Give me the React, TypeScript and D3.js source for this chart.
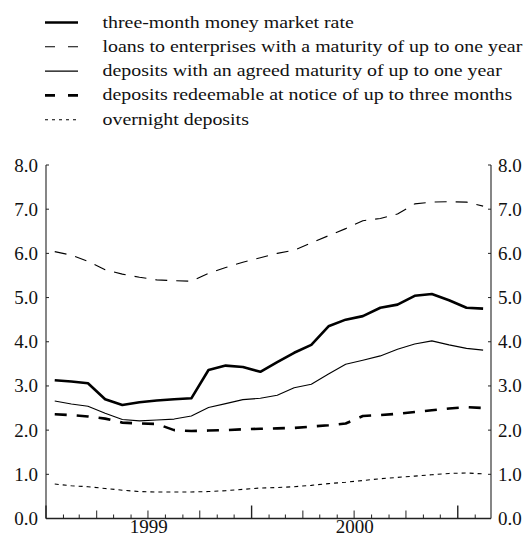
import * as d3 from "d3"

// monthly observations, Jan 1999 - Feb 2001
const months = [
  "1999-01", "1999-02", "1999-03", "1999-04", "1999-05", "1999-06",
  "1999-07", "1999-08", "1999-09", "1999-10", "1999-11", "1999-12",
  "2000-01", "2000-02", "2000-03", "2000-04", "2000-05", "2000-06",
  "2000-07", "2000-08", "2000-09", "2000-10", "2000-11", "2000-12",
  "2001-01", "2001-02",
]

const moneyMarket = [3.13, 3.1, 3.06, 2.7, 2.57, 2.63, 2.67, 2.7, 2.72, 3.36, 3.46, 3.43, 3.32, 3.54, 3.75, 3.93, 4.35, 4.5, 4.58, 4.77, 4.84, 5.04, 5.08, 4.94, 4.77, 4.75]
const loans = [6.04, 5.96, 5.82, 5.63, 5.53, 5.46, 5.4, 5.38, 5.37, 5.55, 5.68, 5.8, 5.9, 6.0, 6.07, 6.24, 6.4, 6.56, 6.74, 6.79, 6.89, 7.12, 7.16, 7.17, 7.16, 7.07]
const agreed = [2.66, 2.59, 2.54, 2.38, 2.24, 2.21, 2.23, 2.25, 2.32, 2.51, 2.6, 2.69, 2.72, 2.79, 2.96, 3.04, 3.27, 3.49, 3.58, 3.68, 3.83, 3.95, 4.02, 3.93, 3.85, 3.81]
const redeemable = [2.36, 2.34, 2.31, 2.26, 2.17, 2.15, 2.14, 2.0, 1.98, 1.99, 2.0, 2.02, 2.03, 2.04, 2.05, 2.08, 2.11, 2.15, 2.32, 2.34, 2.37, 2.41, 2.45, 2.49, 2.52, 2.5]
const overnight = [0.78, 0.74, 0.72, 0.68, 0.64, 0.61, 0.6, 0.6, 0.6, 0.61, 0.63, 0.66, 0.69, 0.7, 0.72, 0.75, 0.79, 0.82, 0.86, 0.9, 0.93, 0.96, 0.99, 1.02, 1.03, 1.01]

const yTicks = [0, 1, 2, 3, 4, 5, 6, 7, 8]
const yearLabels = ["1999", "2000"]

const series = [
  { name: "three-month money market rate", values: moneyMarket, width: 2.6, dash: "", legendDash: "" },
  { name: "loans to enterprises with a maturity of up to one year", values: loans, width: 1.1, dash: "12,9", legendDash: "10,13" },
  { name: "deposits with an agreed maturity of up to one year", values: agreed, width: 1.1, dash: "", legendDash: "" },
  { name: "deposits redeemable at notice of up to three months", values: redeemable, width: 2.6, dash: "12,10", legendDash: "10,13" },
  { name: "overnight deposits", values: overnight, width: 1.1, dash: "4,4", legendDash: "3,4" },
]

const W = 528
const H = 537
const left = 46
const right = 491
const top = 165
const bottom = 518.5
const font = "'Liberation Serif', 'Times New Roman', serif"

export default function App() {
  const parse = d3.timeParse("%Y-%m")
  const start = parse(months[0]) as Date
  const end = d3.timeMonth.offset(parse(months[months.length - 1]) as Date, 1)

  const x = d3.scaleTime().domain([start, end]).range([left, right])
  const y = d3.scaleLinear().domain([0, 8]).range([bottom, top])

  // plot each month at its middle
  const mid = (m: string) => {
    const d = parse(m) as Date
    return new Date((d.getTime() + d3.timeMonth.offset(d, 1).getTime()) / 2)
  }

  const line = d3
    .line<number>()
    .x((_, i) => x(mid(months[i])))
    .y((d) => y(d))

  const monthTicks = d3.timeMonth.range(start, end)

  return (
    <svg
      width={W}
      height={H}
      style={{ position: "absolute", left: 0, top: 0, background: "#fff" }}
      fontFamily={font}
    >
      {/* legend */}
      {series.map((s, i) => {
        const ly = 22.5 + i * 24.3
        return (
          <g key={s.name}>
            <line
              x1={45}
              x2={78}
              y1={ly}
              y2={ly}
              stroke="#000"
              strokeWidth={s.width}
              strokeDasharray={s.legendDash || undefined}
            />
            <text transform={`translate(102.5,${ly + 5}) scale(1.17,1)`} fontSize={17} fill="#111">
              {s.name}
            </text>
          </g>
        )
      })}

      {/* axes */}
      <line x1={left} x2={left} y1={top} y2={bottom} stroke="#222" strokeWidth={1.1} />
      <line x1={right} x2={right} y1={top} y2={bottom} stroke="#222" strokeWidth={1.1} />
      <line x1={left} x2={right} y1={bottom} y2={bottom} stroke="#222" strokeWidth={1.4} />

      {yTicks.map((t) => (
        <g key={t}>
          <line x1={left} x2={left + 3} y1={y(t)} y2={y(t)} stroke="#222" />
          <line x1={right - 3} x2={right} y1={y(t)} y2={y(t)} stroke="#222" />
          <text x={38} y={y(t) + 6.5} fontSize={19} textAnchor="end" fill="#111">
            {d3.format(".1f")(t)}
          </text>
          <text x={498} y={y(t) + 6.5} fontSize={19} textAnchor="start" fill="#111">
            {d3.format(".1f")(t)}
          </text>
        </g>
      ))}

      {monthTicks.map((d) => {
        const m = d.getMonth()
        const len = m === 0 ? 13 : m % 3 === 0 ? 8 : 4
        return (
          <line
            key={d.getTime()}
            x1={x(d)}
            x2={x(d)}
            y1={bottom}
            y2={bottom - len}
            stroke="#222"
            strokeWidth={m === 0 ? 1.4 : 1}
          />
        )
      })}

      {yearLabels.map((yr) => {
        const y0 = new Date(+yr, 0, 1)
        const y1 = new Date(+yr + 1, 0, 1)
        return (
          <text key={yr} x={(x(y0) + x(y1)) / 2} y={533} fontSize={19} textAnchor="middle" fill="#111">
            {yr}
          </text>
        )
      })}

      {/* series */}
      {series.map((s) => (
        <path
          key={s.name}
          d={line(s.values) ?? ""}
          fill="none"
          stroke="#000"
          strokeWidth={s.width}
          strokeDasharray={s.dash || undefined}
          strokeLinejoin="round"
        />
      ))}
    </svg>
  )
}
